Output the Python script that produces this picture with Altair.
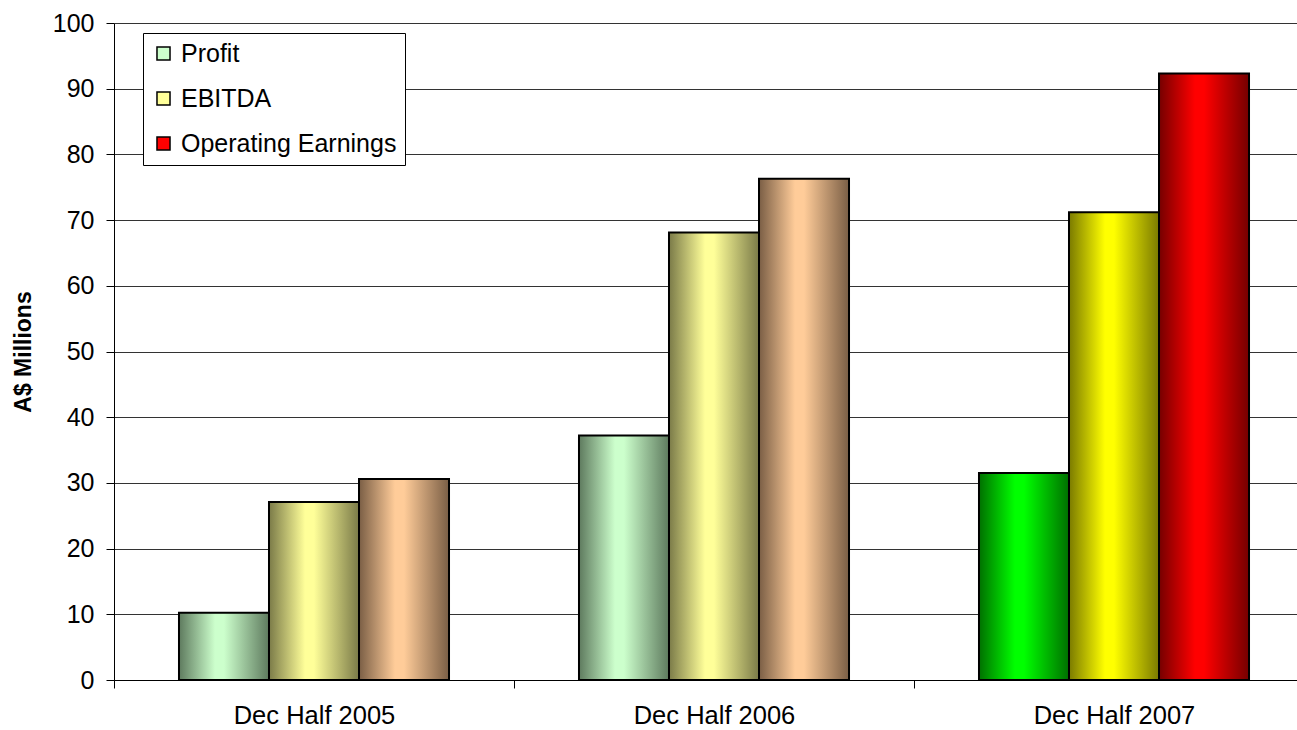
import altair as alt
import pandas as pd

years = ["Dec Half 2005", "Dec Half 2006", "Dec Half 2007"]
series = ["Profit", "EBITDA", "Operating Earnings"]
profit = [10.25, 37.2, 31.5]
ebitda = [27.1, 68.1, 71.2]
operating = [30.6, 76.3, 92.3]
y_ticks = [0, 10, 20, 30, 40, 50, 60, 70, 80, 90, 100]

rows = []
for i, yr in enumerate(years):
    for s, vals in zip(series, [profit, ebitda, operating]):
        rows.append({"year": yr, "series": s, "value": vals[i],
                     "tone": "bright" if i == len(years) - 1 else "pale"})
df = pd.DataFrame(rows)

pale = {"Profit": ("#CCFFCC", "#5E7A5E"),
        "EBITDA": ("#FFFF99", "#7A7A48"),
        "Operating Earnings": ("#FFCC99", "#7A5E45")}
bright = {"Profit": ("#00FF00", "#007000"),
          "EBITDA": ("#FFFF00", "#7A7A00"),
          "Operating Earnings": ("#FF0000", "#750000")}
legend_colors = ["#CCFFCC", "#FFFF99", "#FF0000"]

FONT = "Liberation Sans"

base = alt.Chart(df).encode(
    x=alt.X("year:N", sort=years,
            scale=alt.Scale(range=[0, 1200], paddingInner=0, paddingOuter=0),
            axis=alt.Axis(title=None, labelAngle=0, labelFont=FONT, labelFontSize=25.5,
                          labelColor="black", tickBand="extent", tickSize=8,
                          tickColor="black", domainColor="black", labelPadding=15,
                          grid=False)),
    xOffset=alt.XOffset("series:N", sort=series,
                        scale=alt.Scale(paddingInner=0, paddingOuter=0.722)),
    y=alt.Y("value:Q", scale=alt.Scale(domain=[0, 100], nice=False),
            axis=alt.Axis(values=y_ticks, title="A$ Millions", titleFont=FONT,
                          titleFontSize=23, titleFontWeight="bold", titleColor="black",
                          titlePadding=17, labelFont=FONT, labelFontSize=25,
                          labelColor="black", tickSize=8, tickColor="black",
                          domainColor="black", labelPadding=12, grid=True,
                          gridColor="#333333", gridWidth=1)),
)

legend_layer = base.mark_bar(opacity=0).encode(
    color=alt.Color("series:N", sort=series,
                    scale=alt.Scale(domain=series, range=legend_colors),
                    legend=alt.Legend(title=None, orient="none", legendX=29, legendY=10,
                                      fillColor="white", strokeColor="black",
                                      padding=8, symbolType="square", symbolSize=170,
                                      symbolStrokeColor="black", symbolStrokeWidth=1.5,
                                      symbolOpacity=1, labelFont=FONT, labelFontSize=25,
                                      labelColor="black", rowPadding=19, labelOffset=5,
                                      labelLimit=400))
)

layers = [legend_layer]
for tone, pal in [("pale", pale), ("bright", bright)]:
    for s in series:
        light, dark = pal[s]
        grad = alt.LinearGradient(
            gradient="linear", x1=0, x2=1, y1=0, y2=0,
            stops=[alt.GradientStop(color=dark, offset=0),
                   alt.GradientStop(color=light, offset=0.4),
                   alt.GradientStop(color=light, offset=0.5),
                   alt.GradientStop(color=dark, offset=1)])
        layers.append(
            base.mark_bar(fill=grad, stroke="black", strokeWidth=2)
            .transform_filter(f"datum.tone == '{tone}' && datum.series == '{s}'")
        )

chart = alt.layer(*layers).properties(
    width=1183, height=657,
    autosize=alt.AutoSizeParams(type="none"),
    padding={"left": 114, "top": 23, "right": 0, "bottom": 50},
    background="white",
).configure_view(strokeWidth=0)

chart.save("out.html", embed_options={"renderer": "svg", "actions": False})
